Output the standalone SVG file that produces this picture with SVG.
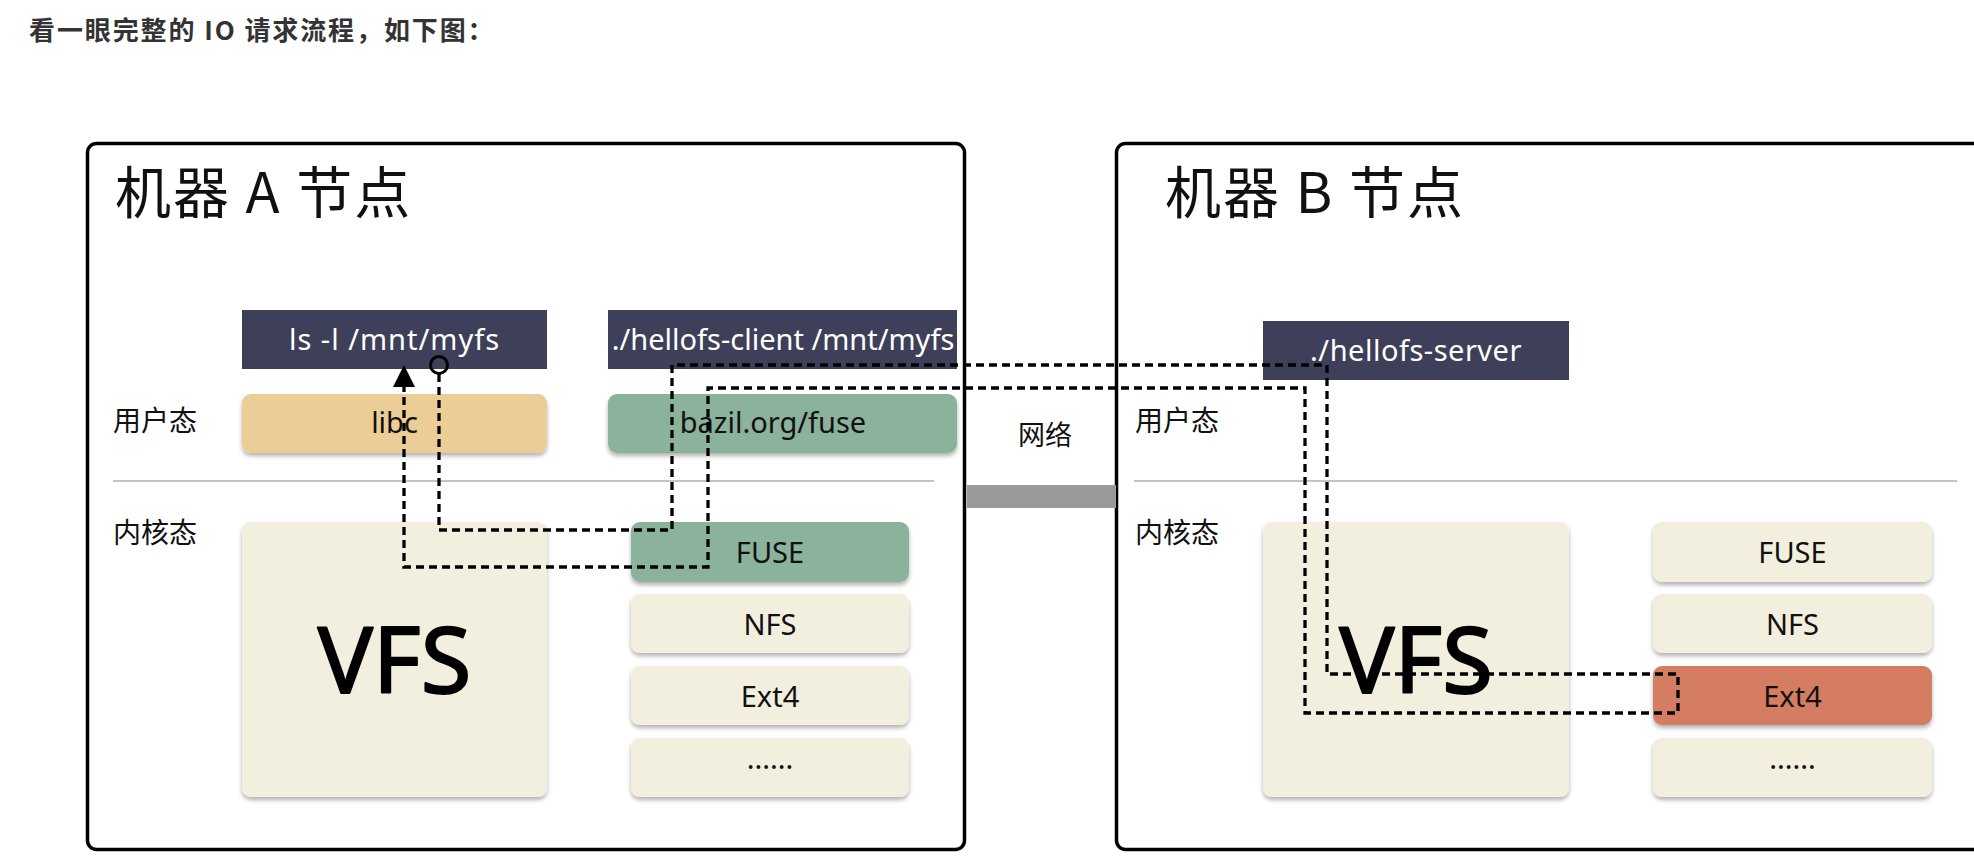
<svg xmlns="http://www.w3.org/2000/svg" width="1974" height="866" viewBox="0 0 1974 866">
<style>
.cjk{font-family:"Noto Sans CJK SC","Noto Sans",sans-serif;fill:#111}
.lbl{font-family:"Noto Sans","DejaVu Sans",sans-serif;font-size:29px;text-anchor:middle;fill:#111}
.wt{fill:#fff}
.cmd{fill:#3e3f58}
.tan{fill:#ebcd97}
.grn{fill:#8bb29b}
.crm{fill:#f3efdf}
.red{fill:#d57d63}
.frame{fill:#fff;stroke:#000;stroke-width:3.5}
.sep{stroke:#b0b0b0;stroke-width:1.5}
.vfs{font-family:"Noto Sans","DejaVu Sans",sans-serif;font-size:92px;text-anchor:middle;fill:#000;stroke:#000;stroke-width:2;stroke-linejoin:round}
.dash{fill:none;stroke:#000;stroke-width:3.3;stroke-dasharray:8 5}
</style>
<defs>
<filter id="sh" x="-10%" y="-10%" width="120%" height="130%">
<feDropShadow dx="0" dy="3" stdDeviation="2" flood-color="#000" flood-opacity="0.3"/>
</filter>
<marker id="arr" markerUnits="userSpaceOnUse" markerWidth="22" markerHeight="22" viewBox="0 0 22 22" refX="0" refY="11" orient="auto">
<path d="M0,0 L22,11 L0,22 z" fill="#000" stroke="none"/>
</marker>
</defs>
<rect width="1974" height="866" fill="#fff"/>
<text class="cjk" x="29" y="40" font-size="26" font-weight="bold" letter-spacing="1.9" style="fill:#333">看一眼完整的 IO 请求流程，如下图：</text>

<g id="machineA">
<rect class="frame" x="87.5" y="143.5" width="877" height="706" rx="9"/>
<text class="cjk" x="115" y="213" font-size="56" letter-spacing="2">机器 A 节点</text>
<text class="cjk" x="113" y="431" font-size="28">用户态</text>
<text class="cjk" x="113" y="543" font-size="28">内核态</text>
<line class="sep" x1="113" y1="481" x2="934" y2="481"/>
</g>
<g id="machineB">
<rect class="frame" x="1116.5" y="143.5" width="900" height="706" rx="9"/>
<text class="cjk" x="1165" y="213" font-size="56" letter-spacing="2">机器 B 节点</text>
<text class="cjk" x="1135" y="431" font-size="28">用户态</text>
<text class="cjk" x="1135" y="543" font-size="28">内核态</text>
<line class="sep" x1="1134" y1="481" x2="1957" y2="481"/>
</g>
<g id="network">
<rect x="967" y="485" width="149" height="23" fill="#9a9a9a"/>
<text class="cjk" x="1045" y="445" font-size="27" text-anchor="middle">网络</text>
</g>

<g id="ls"><rect class="cmd" x="242" y="310" width="305" height="59"/><text class="lbl wt" x="394.5" y="350" letter-spacing="1">ls -l /mnt/myfs</text></g>
<g id="hellofs-client"><rect class="cmd" x="608" y="310" width="349" height="59"/><text class="lbl wt" x="783" y="350">./hellofs-client /mnt/myfs</text></g>
<g id="libc"><rect class="tan" x="242" y="394" width="305" height="59" rx="9" filter="url(#sh)"/><text class="lbl" x="394.5" y="433">libc</text></g>
<g id="bazil"><rect class="grn" x="608" y="394" width="349" height="59" rx="9" filter="url(#sh)"/><text class="lbl" x="773" y="433">bazil.org/fuse</text></g>
<g id="vfsA"><rect class="crm" x="242" y="522" width="305" height="275" rx="9" filter="url(#sh)"/><text class="vfs" x="394.5" y="693">VFS</text></g>
<g id="fuseA"><rect class="grn" x="631" y="522" width="278" height="60" rx="9" filter="url(#sh)"/><text class="lbl" x="770" y="563">FUSE</text></g>
<g id="nfsA"><rect class="crm" x="631" y="594" width="278" height="59" rx="9" filter="url(#sh)"/><text class="lbl" x="770" y="634.5">NFS</text></g>
<g id="ext4A"><rect class="crm" x="631" y="666" width="278" height="59" rx="9" filter="url(#sh)"/><text class="lbl" x="770" y="706.5">Ext4</text></g>
<g id="moreA"><rect class="crm" x="631" y="738" width="278" height="59" rx="9" filter="url(#sh)"/><text class="lbl" x="770" y="769">......</text></g>

<g id="hellofs-server"><rect class="cmd" x="1263" y="321" width="306" height="59"/><text class="lbl wt" x="1416" y="361" letter-spacing="0.5">./hellofs-server</text></g>
<g id="vfsB"><rect class="crm" x="1263" y="522" width="306" height="275" rx="9" filter="url(#sh)"/><text class="vfs" x="1416" y="693">VFS</text></g>
<g id="fuseB"><rect class="crm" x="1653" y="522" width="279" height="60" rx="9" filter="url(#sh)"/><text class="lbl" x="1792.5" y="563">FUSE</text></g>
<g id="nfsB"><rect class="crm" x="1653" y="594" width="279" height="59" rx="9" filter="url(#sh)"/><text class="lbl" x="1792.5" y="634.5">NFS</text></g>
<g id="ext4B"><rect class="red" x="1653" y="666" width="279" height="59" rx="9" filter="url(#sh)"/><text class="lbl" x="1792.5" y="706.5">Ext4</text></g>
<g id="moreB"><rect class="crm" x="1653" y="738" width="279" height="59" rx="9" filter="url(#sh)"/><text class="lbl" x="1792.5" y="769">......</text></g>

<g id="connectors">
<circle cx="439" cy="365" r="8.5" fill="none" stroke="#000" stroke-width="3"/>
<path class="dash" d="M439,374 V530 H672 V365 H1327 V674 H1678 V713 H1305 V388 H708 V567 H404 V387" marker-end="url(#arr)"/>
</g>
</svg>
